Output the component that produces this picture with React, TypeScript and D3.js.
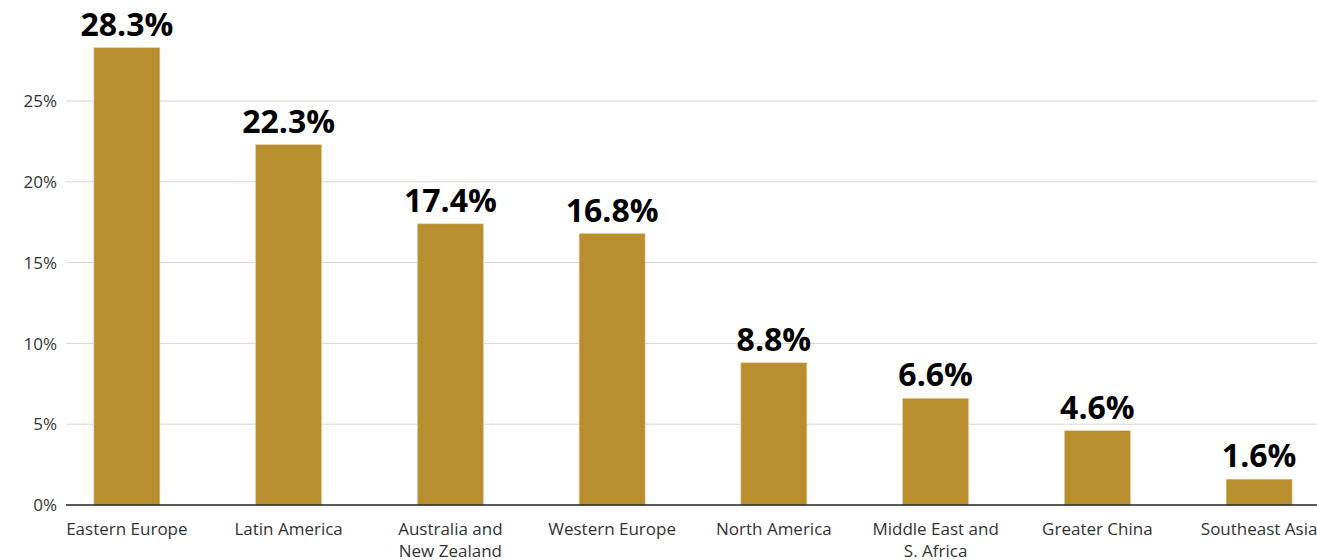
import React from "react";
import * as d3 from "d3";

const categories: string[][] = [
  ["Eastern Europe"],
  ["Latin America"],
  ["Australia and", "New Zealand"],
  ["Western Europe"],
  ["North America"],
  ["Middle East and", "S. Africa"],
  ["Greater China"],
  ["Southeast Asia"],
];
const values: number[] = [28.3, 22.3, 17.4, 16.8, 8.8, 6.6, 4.6, 1.6];
const yTicks: number[] = [0, 5, 10, 15, 20, 25];

const W = 1317;
const H = 560;

export default function App() {
  const x = d3
    .scaleBand<number>()
    .domain(values.map((_, i) => i))
    .range([46, 1340])
    .paddingInner(0.592)
    .paddingOuter(0.296);
  const y = d3.scaleLinear().domain([0, 25]).range([505, 101]);
  const axisX0 = 66;
  const font = "'Open Sans', 'Noto Sans', sans-serif";

  return (
    <svg
      width={W}
      height={H}
      style={{ position: "absolute", left: 0, top: 0, background: "#fff" }}
    >
      {yTicks.map((t) => (
        <g key={t}>
          {t !== 0 && (
            <line x1={axisX0} x2={W} y1={y(t)} y2={y(t)} stroke="#d8d8cc" strokeWidth={1} />
          )}
          <text
            x={57}
            y={y(t)}
            dy="0.36em"
            textAnchor="end"
            fontFamily={font}
            fontSize={17}
            fill="#333"
          >
            {t}%
          </text>
        </g>
      ))}
      {values.map((v, i) => {
        const bx = x(i)!;
        const bw = x.bandwidth();
        return (
          <g key={i}>
            <rect
              x={bx}
              y={y(v)}
              width={bw}
              height={y(0) - y(v)}
              fill="#B88E2F"
              stroke="#e3d2a2"
              strokeWidth={0.6}
            />
            <text
              x={bx + bw / 2}
              y={y(v) - 12}
              textAnchor="middle"
              fontFamily={font}
              fontWeight={700}
              fontSize={32}
              fill="#000"
            >
              {v.toFixed(1)}%
            </text>
            <text
              x={bx + bw / 2}
              y={535}
              textAnchor="middle"
              fontFamily={font}
              fontSize={17}
              fill="#333"
            >
              {categories[i].map((line, j) => (
                <tspan key={j} x={bx + bw / 2} dy={j === 0 ? 0 : 22}>
                  {line}
                </tspan>
              ))}
            </text>
          </g>
        );
      })}
      <line x1={axisX0} x2={W} y1={y(0)} y2={y(0)} stroke="#222" strokeWidth={1.5} />
    </svg>
  );
}
